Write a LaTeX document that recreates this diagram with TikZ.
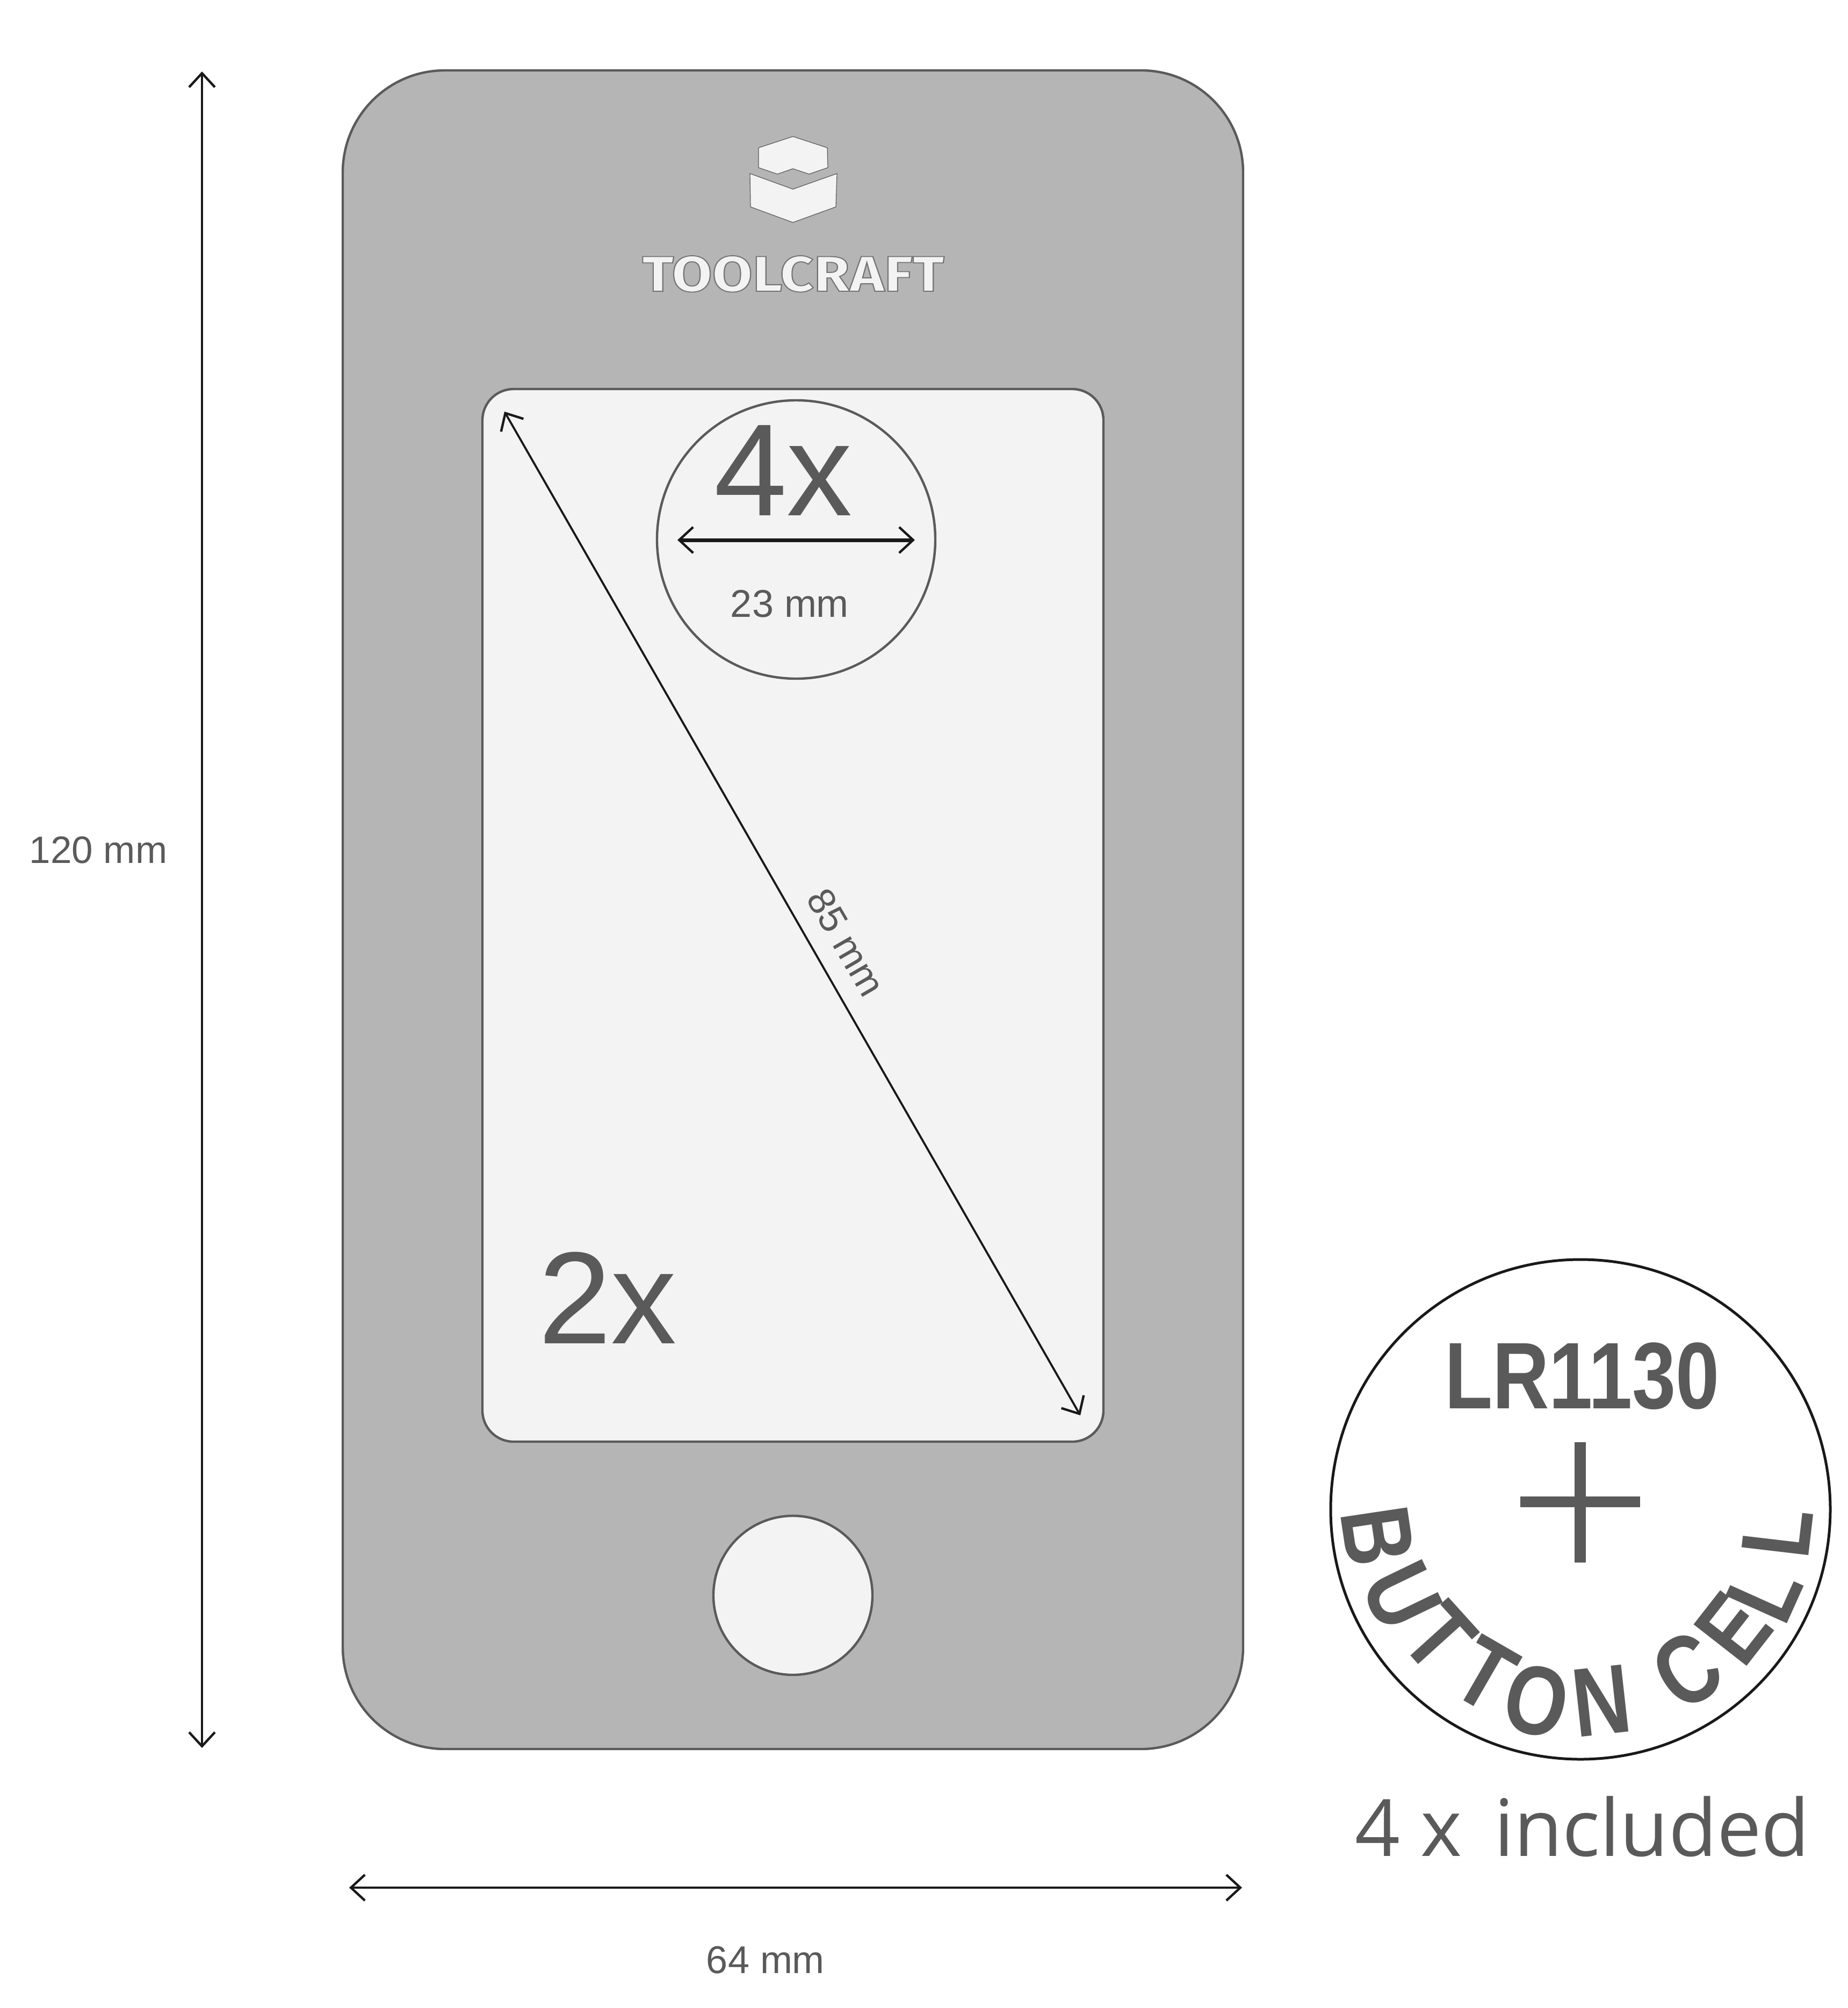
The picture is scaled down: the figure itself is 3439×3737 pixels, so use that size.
\documentclass[tikz,border=0pt]{standalone}
\usepackage{fontspec}
\usepackage{graphicx}
\setmainfont{Liberation Sans}
\newfontfamily\opensans{Open Sans}
\newfontfamily\logofont{Fira Sans}
\usetikzlibrary{arrows.meta}
\definecolor{plate}{HTML}{B5B5B5}
\definecolor{pale}{HTML}{F3F3F3}
\definecolor{ink}{HTML}{5A5A5A}
\definecolor{edgegray}{HTML}{5A5A5A}
\tikzset{
  txt/.style={inner sep=0pt,outer sep=0pt,text=ink},
  dimline/.style={draw=black!90,line width=2.2pt,{Straight Barb[length=13pt,width=24pt,line width=2.2pt]}-{Straight Barb[length=13pt,width=24pt,line width=2.2pt]}},
  platepart/.style={draw=edgegray,line width=2.2pt},
  logopart/.style={fill=pale,draw=gray!70!black,line width=.6pt,line join=round},
  btn/.style={txt,font=\fontsize{91}{91}\selectfont\bfseries},
  circ/.style={circle,inner sep=0pt,outer sep=0pt,platepart,fill=pale}
}
\newcommand{\sq}[1]{\scalebox{.82}[1]{#1}}
\begin{document}
\begin{tikzpicture}[x=.5pt,y=-.5pt]
\useasboundingbox[fill=white] (0,0) rectangle (3439,3737);
% plate
\draw[platepart,fill=plate,rounded corners=95pt] (638,131) rectangle (2314,3255);
\draw[platepart,fill=pale,rounded corners=29pt] (898,724) rectangle (2054,2683);
\node[circ,minimum size=259pt] (coin) at (1482,1004) {};
\node[circ,minimum size=148pt] (home) at (1476,2969) {};
% logo
\draw[logopart] (1476,254) -- (1540,275) -- (1541,312) -- (1506,324) -- (1476,314) -- (1447,324) -- (1412,312) -- (1412,275) -- cycle;
\draw[logopart] (1396,323) -- (1476,352) -- (1558,323) -- (1556,385) -- (1476,414) -- (1397,385) -- cycle;
\node[inner sep=0pt,anchor=base west,text=pale] (brand) at (1195,542)
  {\resizebox{281pt}{33pt}{\special{pdf:code 2 Tr 0.45 0.45 0.45 RG 0.2 w}\logofont\bfseries TOOLCRAFT\special{pdf:code 0 Tr}}};
% dimensions
\coordinate (vtop) at (376,133);
\coordinate (vbot) at (376,3253);
\coordinate (hleft) at (650,3513);
\coordinate (hright) at (2312,3513);
\coordinate (dtop) at (939,766);
\coordinate (dbot) at (2011,2634);
\coordinate (cleft) at (1261,1005);
\coordinate (cright) at (1703,1005);
\draw[dimline] (vtop) -- (vbot);
\draw[dimline] (hleft) -- (hright);
\draw[dimline,line width=1.9pt] (dtop) -- (dbot);
\draw[dimline,line width=3.5pt] (cleft) -- (cright);
\node[txt,font=\fontsize{35.5}{35.5}\selectfont] (l120) at (183,1582) {120 mm};
\node[txt,font=\fontsize{36}{36}\selectfont] (l64) at (1425,3648) {64 mm};
\node[txt,font=\fontsize{35.5}{35.5}\selectfont,rotate=-60] (l85) at (1575,1754) {85 mm};
\node[txt,font=\fontsize{36}{36}\selectfont] (l23) at (1470,1124) {23 mm};
\node[txt,font=\fontsize{122}{122}\selectfont,anchor=base west] (n4) at (1329,959) {4x};
\node[txt,font=\fontsize{122}{122}\selectfont,anchor=base west] (n2) at (1002,2500) {2x};
% battery
\node[circle,draw=black!90,line width=2.5pt,fill=white,minimum size=465pt,inner sep=0pt] (cell) at (2942,2809) {};
\node[txt,font=\fontsize{88}{88}\selectfont\bfseries] (lr) at (2945,2561) {\scalebox{.83}[1]{LR1130}};
\fill[ink] (2830,2785) rectangle (3053,2805);
\fill[ink] (2931,2684) rectangle (2952,2908);
\node[btn,rotate=-81.5] (b1) at (2564,2859) {\sq{B}};
\node[btn,rotate=-64.2] (b2) at (2609,2970) {\sq{U}};
\node[btn,rotate=-47.9] (b3) at (2679,3047) {\sq{T}};
\node[btn,rotate=-30] (b4) at (2765,3116) {\sq{T}};
\node[btn,rotate=-13] (b5) at (2860,3165) {\sq{O}};
\node[btn,rotate=6.3] (b6) at (2981,3165) {\sq{N}};
\node[btn,rotate=33.6] (b7) at (3141,3108) {\sq{C}};
\node[btn,rotate=52] (b8) at (3227,3031) {\sq{E}};
\node[btn,rotate=65.8] (b9) at (3284,2963) {\sq{L}};
\node[btn,rotate=83.3] (b10) at (3309,2852) {\sq{L}};
\node[txt,font=\opensans\fontsize{73.5}{73.5}\selectfont,anchor=base west] (incl) at (2522,3454) {4 x\hspace{30pt}included};
\end{tikzpicture}
\end{document}
